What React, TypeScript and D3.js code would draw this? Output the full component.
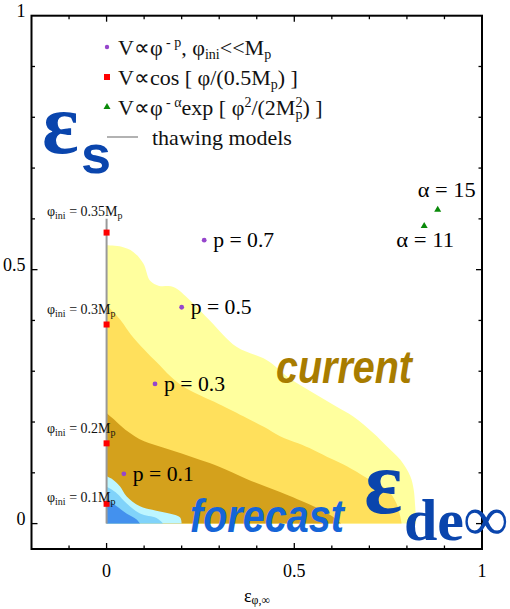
import React from "react";
import * as d3 from "d3";

type Pt = [number, number];

// Contour boundaries: each starts on the x = 0 axis and ends on y = 0.
const currentOuter: Pt[] = [[0,0.548],[0.04,0.545],[0.071,0.535],[0.098,0.512],[0.116,0.478],[0.14,0.468],[0.178,0.466],[0.222,0.44],[0.275,0.40],[0.346,0.348],[0.426,0.322],[0.489,0.285],[0.551,0.257],[0.613,0.23],[0.657,0.211],[0.711,0.178],[0.747,0.152],[0.782,0.126],[0.809,0.093],[0.818,0.067],[0.822,0.034],[0.825,0]];
const currentMid: Pt[] = [[0,0.43],[0.02,0.415],[0.04,0.398],[0.065,0.372],[0.1,0.343],[0.133,0.318],[0.17,0.29],[0.2,0.272],[0.25,0.252],[0.3,0.235],[0.373,0.208],[0.42,0.19],[0.462,0.172],[0.51,0.158],[0.551,0.145],[0.6,0.127],[0.64,0.113],[0.693,0.09],[0.747,0.067],[0.772,0.04],[0.782,0.015],[0.786,0]];
const currentInner: Pt[] = [[0,0.218],[0.02,0.205],[0.05,0.185],[0.1,0.162],[0.15,0.15],[0.2,0.138],[0.25,0.125],[0.3,0.112],[0.373,0.088],[0.462,0.062],[0.551,0.034],[0.6,0.015],[0.625,0]];
const forecastOuter: Pt[] = [[0,0.093],[0.018,0.086],[0.036,0.073],[0.053,0.054],[0.089,0.034],[0.142,0.024],[0.178,0.018],[0.196,0.012],[0.2,0]];
const forecastMid: Pt[] = [[0,0.073],[0.027,0.06],[0.053,0.04],[0.089,0.02],[0.133,0.011],[0.151,0]];
const forecastInner: Pt[] = [[0,0.05],[0.027,0.034],[0.053,0.02],[0.08,0.008],[0.089,0]];

const contourColors = ["#FFFF9E", "#FFE05C", "#D4A11C", "#BDF6FF", "#80D3FA", "#4391EE"];

// Power-law models (points)
const powerP = ["0.7", "0.5", "0.3", "0.1"];
const powerX = [0.26, 0.2, 0.129, 0.046];
const powerY = [0.558, 0.426, 0.275, 0.098];

// Cosine models on the thawing line
const cosPhi = ["0.35", "0.3", "0.2", "0.1"];
const cosY = [0.573, 0.392, 0.158, 0.039];
const cosLabelY = [0.605, 0.412, 0.178, 0.042];

// Exponential models
const expAlpha = ["15", "11"];
const expX = [0.882, 0.846];
const expY = [0.619, 0.587];

const thawingTop = 0.6;

const xTicks = [-0.1, 0, 0.1, 0.2, 0.3, 0.4, 0.5, 0.6, 0.7, 0.8, 0.9];
const yTicks = [0, 0.1, 0.2, 0.3, 0.4, 0.5, 0.6, 0.7, 0.8, 0.9];
const xTickLabels = [0, 0.5, 1];
const yTickLabels = [0, 0.5, 1];

const W = 510, H = 609;
const L = 31.5, R = 482, T = 15.7, B = 549;

const serif = "'Liberation Serif', 'Times New Roman', serif";
const sans = "'Liberation Sans', Arial, sans-serif";

export default function App() {
  const x = d3.scaleLinear().domain([-0.2, 1]).range([L, R]);
  const y = d3.scaleLinear().domain([-0.05, 1]).range([B, T]);
  const line = d3.line<Pt>().x(d => x(d[0])).y(d => y(d[1])).curve(d3.curveCatmullRom.alpha(0.5));
  const area = (pts: Pt[]) => `M${x(0)},${y(0)}` + (line(pts) as string).replace(/^M/, "L") + "Z";
  const regions = [currentOuter, currentMid, currentInner, forecastOuter, forecastMid, forecastInner];

  return (
    <svg width={W} height={H} style={{ position: "absolute", left: 0, top: 0, background: "#fff" }}>
      {regions.map((r, i) => (
        <path key={i} d={area(r)} fill={contourColors[i]} stroke="none" />
      ))}

      {/* thawing line */}
      <line x1={x(0)} x2={x(0)} y1={y(0)} y2={y(thawingTop)} stroke="#999" strokeWidth={2} />

      {/* frame and ticks */}
      <rect x={L} y={T} width={R - L} height={B - T} fill="none" stroke="#000" strokeWidth={2} />
      {xTicks.map(t => {
        const len = t === 0 || t === 0.5 ? 6 : 3.5;
        return (
          <g key={"xt" + t}>
            <line x1={x(t)} x2={x(t)} y1={B} y2={B - len} stroke="#000" strokeWidth={1.3} />
            <line x1={x(t)} x2={x(t)} y1={T} y2={T + len} stroke="#000" strokeWidth={1.3} />
          </g>
        );
      })}
      {yTicks.map(t => {
        const len = t === 0 || t === 0.5 ? 6 : 3.5;
        return (
          <g key={"yt" + t}>
            <line x1={L} x2={L + len} y1={y(t)} y2={y(t)} stroke="#000" strokeWidth={1.3} />
            <line x1={R} x2={R - len} y1={y(t)} y2={y(t)} stroke="#000" strokeWidth={1.3} />
          </g>
        );
      })}
      {xTickLabels.map(t => (
        <text key={"xl" + t} x={x(t)} y={577} textAnchor="middle" fontFamily={serif} fontSize={18}>{String(t)}</text>
      ))}
      {yTickLabels.map(t => (
        <text key={"yl" + t} x={25.5} y={y(t) + 1} textAnchor="end" fontFamily={serif} fontSize={18}>{String(t)}</text>
      ))}
      <text x={257} y={602} textAnchor="middle" fontFamily={serif} fontSize={18}>
        ε<tspan fontSize={12} dy={2}>φ,∞</tspan>
      </text>

      {/* power-law points */}
      {powerP.map((p, i) => (
        <g key={"pp" + i}>
          <circle cx={x(powerX[i])} cy={y(powerY[i])} r={2.4} fill="#9646CC" />
          <text x={x(powerX[i]) + 9} y={y(powerY[i]) + 7} fontFamily={serif} fontSize={21}
            textLength={61} lengthAdjust="spacingAndGlyphs">p = {p}</text>
        </g>
      ))}

      {/* cosine points */}
      {cosPhi.map((c, i) => (
        <g key={"cp" + i}>
          <rect x={x(0) - 3} y={y(cosY[i]) - 3} width={6} height={6} fill="#FF0000" />
          <text x={47} y={y(cosLabelY[i])} fontFamily={serif} fontSize={14} fill="#111">
            φ<tspan fontSize={10} dy={3}>ini</tspan><tspan dy={-3}> = {c}M</tspan><tspan fontSize={10} dy={3}>p</tspan>
          </text>
        </g>
      ))}

      {/* exponential points */}
      {expAlpha.map((a, i) => {
        const cx = x(expX[i]), cy = y(expY[i]);
        return (
          <g key={"ea" + i}>
            <path d={`M${cx},${cy - 3.5}L${cx + 3.5},${cy + 2.5}L${cx - 3.5},${cy + 2.5}Z`} fill="#0A8A0A" />
            <text x={i === 0 ? cx - 20 : cx - 28} y={i === 0 ? cy - 12 : cy + 22} fontFamily={serif} fontSize={21}
              textLength={58} lengthAdjust="spacingAndGlyphs">α = {a}</text>
          </g>
        );
      })}

      {/* legend */}
      <g fontFamily={serif} fontSize={22} fill="#111">
        <circle cx={107} cy={47} r={2.2} fill="#9646CC" />
        <text x={118} y={55}>
          V∝φ<tspan fontSize={14} dy={-8}> - p</tspan><tspan dy={8}>, φ</tspan><tspan fontSize={14} dy={4}>ini</tspan><tspan dy={-4}>&lt;&lt;M</tspan><tspan fontSize={14} dy={4}>p</tspan>
        </text>
        <rect x={104} y={74} width={6} height={6} fill="#FF0000" />
        <text x={118} y={85}>
          V∝cos [ φ/(0.5M<tspan fontSize={14} dy={4}>p</tspan><tspan dy={-4}>) ]</tspan>
        </text>
        <path d="M107,103L110.5,109L103.5,109Z" fill="#0A8A0A" />
        <text x={118} y={115}>
          V∝φ<tspan fontSize={14} dy={-8}> - α</tspan><tspan dy={8}>exp [ φ</tspan><tspan fontSize={14} dy={-8}>2</tspan><tspan dy={8}>/(2M</tspan><tspan fontSize={14} dy={4}>p</tspan><tspan fontSize={14} dx={-7} dy={-12}>2</tspan><tspan dy={8}>) ]</tspan>
        </text>
        <line x1={107} x2={138} y1={137} y2={137} stroke="#999" strokeWidth={1.5} />
        <text x={152} y={145}>thawing models</text>
      </g>

      {/* region labels */}
      <text x={276} y={383} fontFamily={sans} fontWeight="bold" fontStyle="italic" fontSize={46}
        fill="#A87C00" textLength={136} lengthAdjust="spacingAndGlyphs">current</text>
      <text x={190} y={532} fontFamily={sans} fontWeight="bold" fontStyle="italic" fontSize={46}
        fill="#1565D8" textLength={154} lengthAdjust="spacingAndGlyphs">forecast</text>

      <text x={42} y={153} fontFamily={serif} fontWeight="bold" fontSize={86} fill="#0A45AD">ε</text>
      <text x={81} y={173} fontFamily={sans} fontWeight="bold" fontSize={54} fill="#0A45AD">s</text>

      <text x={364} y={513} fontFamily={serif} fontWeight="bold" fontSize={90} fill="#0A45AD">ε</text>
      <text x={404} y={540} fontFamily={serif} fontWeight="bold" fontSize={60} fill="#0A45AD">de</text>
      <text x={463} y={540} fontFamily={serif} fontSize={64} fill="#0A45AD">∞</text>
    </svg>
  );
}
